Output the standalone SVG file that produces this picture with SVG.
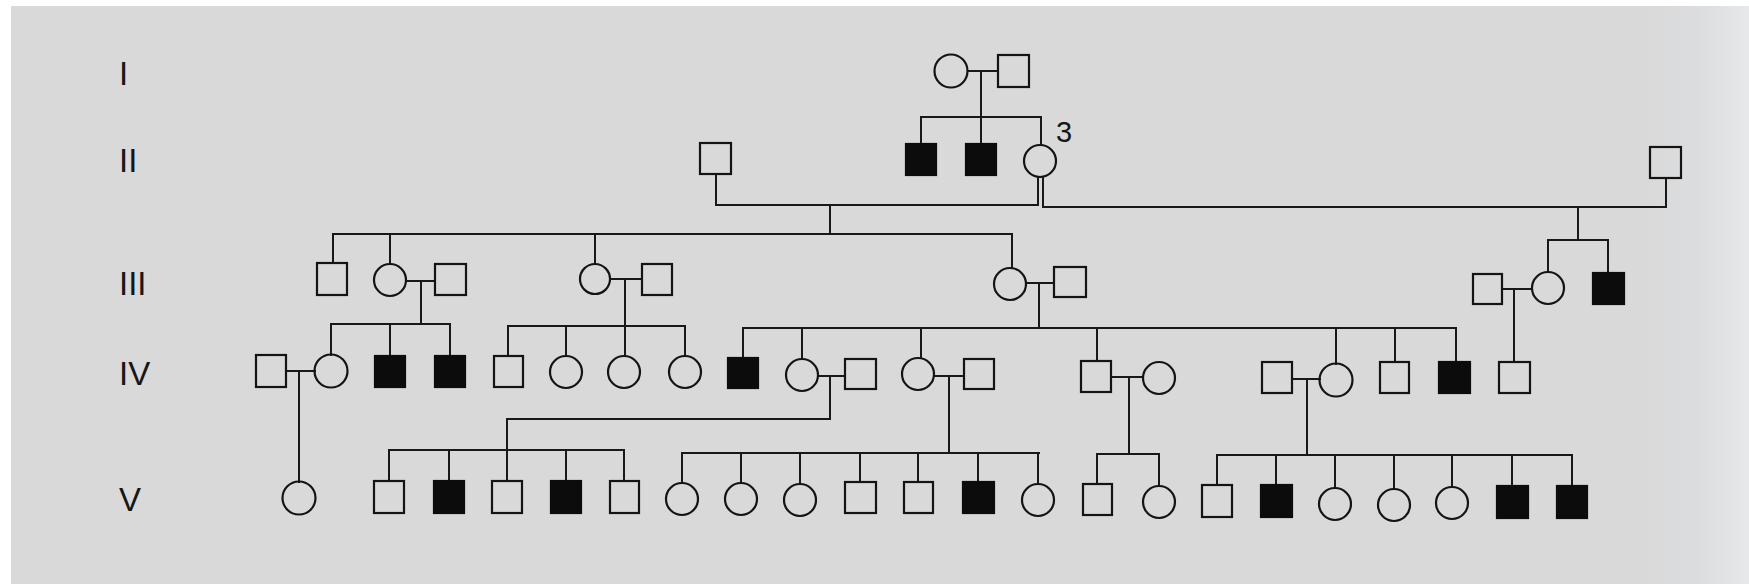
<svg xmlns="http://www.w3.org/2000/svg" width="1749" height="584" viewBox="0 0 1749 584">
  <defs>
    <linearGradient id="edge" x1="0" y1="0" x2="1" y2="0">
      <stop offset="0" stop-color="#d9d9d9"/>
      <stop offset="0.55" stop-color="#dcdddf"/>
      <stop offset="1" stop-color="#e6e8ea"/>
    </linearGradient>
    <style>
      .bg { fill: #d9d9d9; }
      .m { fill: none; stroke: #141414; stroke-width: 2.2; }
      .f { fill: none; stroke: #141414; stroke-width: 2.2; }
      .a { fill: #0c0c0c; stroke: #0c0c0c; stroke-width: 2.2; }
      .ln { fill: none; stroke: #181818; stroke-width: 2; stroke-linecap: square; }
      .gen { font-family: "Liberation Sans", Arial, sans-serif; font-size: 33px; fill: #161616; }
      .num { font-family: "Liberation Sans", Arial, sans-serif; font-size: 29px; fill: #161616; }
    </style>
  </defs>

  <!-- page -->
  <rect x="0" y="0" width="1749" height="584" fill="#ffffff"/>
  <rect class="bg" x="11" y="6" width="1738" height="578"/>
  <rect x="1640" y="6" width="109" height="578" fill="url(#edge)"/>

  <!-- generation labels -->
  <g id="labels">
    <text class="gen" x="119" y="85">I</text>
    <text class="gen" x="119" y="172">II</text>
    <text class="gen" x="119" y="295">III</text>
    <text class="gen" x="119" y="385">IV</text>
    <text class="gen" x="119" y="511">V</text>
  </g>

  <!-- connectors: marriage lines, descent lines and sibships -->
  <g id="connectors" class="ln">
    <!-- I -->
    <path d="M968 71H998M981 71V117M921 117H1041M921 117V144M981 117V144M1041 117V145"/>
    <!-- II: two marriages of II-3 -->
    <path d="M716 174V205H1038V177M1043 177V207H1666V178"/>
    <path d="M830 205V234M333 234H1012M333 234V263M390 234V264M595 234V264M1012 234V268"/>
    <path d="M1578 207V240M1548 240H1608M1548 240V272M1608 240V273"/>
    <!-- III left couple -->
    <path d="M406 281H435M421 281V324M331 324H450M331 324V355M390 324V356M450 324V356"/>
    <!-- III second couple -->
    <path d="M610 279H642M625 279V326M508 326H685M508 326V356M566 326V356M625 326V356M685 326V356"/>
    <!-- III third couple -->
    <path d="M1026 283H1054M1039 283V328M743 328H1456M743 328V358M802 328V359M921 328V358M1097 328V361M1336 328V364M1395 328V362M1456 328V362"/>
    <!-- III right couple -->
    <path d="M1502 289H1532M1514 289V362"/>
    <!-- IV couples -->
    <path d="M286 371H315M299 371V482"/>
    <path d="M818 376H845M830 376V419H507V481M389 450H624M389 450V481M449 450V481M566 450V481M624 450V481"/>
    <path d="M934 376H964M949 376V453M682 453H1039M682 453V483M741 453V483M800 453V484M860 453V482M918 453V482M978 453V482M1038 453V484"/>
    <path d="M1111 377H1143M1129 377V454M1097 454H1159M1097 454V484M1159 454V485"/>
    <path d="M1292 379H1320M1307 379V455M1217 455H1572M1217 455V485M1276 455V485M1335 455V488M1394 455V489M1452 455V487M1512 455V486M1572 455V486"/>
  </g>

  <!-- generation I -->
  <g id="I-1"><circle class="f" cx="951" cy="71" r="16.5"/></g>
  <g id="I-2"><rect class="m" x="998" y="55" width="31" height="32"/></g>

  <!-- generation II -->
  <g id="II-spouse-left"><rect class="m" x="700" y="143" width="31" height="31"/></g>
  <g id="II-1"><rect class="a" x="906" y="144" width="30" height="31"/></g>
  <g id="II-2"><rect class="a" x="966" y="144" width="30" height="31"/></g>
  <g id="II-3"><circle class="f" cx="1040" cy="161" r="16"/><text class="num" x="1056" y="142">3</text></g>
  <g id="II-spouse-right"><rect class="m" x="1650" y="147" width="31" height="31"/></g>

  <!-- generation III -->
  <g id="III-1"><rect class="m" x="317" y="263" width="30" height="32"/></g>
  <g id="III-2"><circle class="f" cx="390" cy="280" r="16"/></g>
  <g id="III-2-spouse"><rect class="m" x="435" y="264" width="31" height="31"/></g>
  <g id="III-3"><circle class="f" cx="595" cy="279" r="15"/></g>
  <g id="III-3-spouse"><rect class="m" x="642" y="264" width="30" height="31"/></g>
  <g id="III-4"><circle class="f" cx="1010" cy="284" r="16"/></g>
  <g id="III-4-spouse"><rect class="m" x="1054" y="267" width="32" height="30"/></g>
  <g id="III-5-spouse"><rect class="m" x="1473" y="274" width="29" height="30"/></g>
  <g id="III-5"><circle class="f" cx="1548" cy="288" r="16"/></g>
  <g id="III-6"><rect class="a" x="1593" y="273" width="31" height="31"/></g>

  <!-- generation IV -->
  <g id="IV-1-spouse"><rect class="m" x="256" y="355" width="30" height="32"/></g>
  <g id="IV-1"><circle class="f" cx="331" cy="371" r="16.5"/></g>
  <g id="IV-2"><rect class="a" x="375" y="356" width="30" height="31"/></g>
  <g id="IV-3"><rect class="a" x="435" y="356" width="30" height="31"/></g>
  <g id="IV-4"><rect class="m" x="494" y="356" width="29" height="31"/></g>
  <g id="IV-5"><circle class="f" cx="566" cy="372" r="16"/></g>
  <g id="IV-6"><circle class="f" cx="624" cy="372" r="16"/></g>
  <g id="IV-7"><circle class="f" cx="685" cy="372" r="16"/></g>
  <g id="IV-8"><rect class="a" x="728" y="358" width="30" height="30"/></g>
  <g id="IV-9"><circle class="f" cx="802" cy="375" r="16"/></g>
  <g id="IV-9-spouse"><rect class="m" x="845" y="359" width="31" height="30"/></g>
  <g id="IV-10"><circle class="f" cx="918" cy="374" r="16"/></g>
  <g id="IV-10-spouse"><rect class="m" x="964" y="359" width="30" height="30"/></g>
  <g id="IV-11"><rect class="m" x="1081" y="361" width="30" height="31"/></g>
  <g id="IV-11-spouse"><circle class="f" cx="1159" cy="378" r="16"/></g>
  <g id="IV-12-spouse"><rect class="m" x="1262" y="362" width="30" height="31"/></g>
  <g id="IV-12"><circle class="f" cx="1336" cy="380" r="16.5"/></g>
  <g id="IV-13"><rect class="m" x="1380" y="362" width="29" height="31"/></g>
  <g id="IV-14"><rect class="a" x="1439" y="362" width="31" height="31"/></g>
  <g id="IV-15"><rect class="m" x="1499" y="362" width="31" height="31"/></g>

  <!-- generation V -->
  <g id="V-1"><circle class="f" cx="299" cy="498" r="16.5"/></g>
  <g id="V-2"><rect class="m" x="374" y="481" width="30" height="32"/></g>
  <g id="V-3"><rect class="a" x="434" y="481" width="30" height="32"/></g>
  <g id="V-4"><rect class="m" x="492" y="481" width="30" height="32"/></g>
  <g id="V-5"><rect class="a" x="551" y="481" width="30" height="32"/></g>
  <g id="V-6"><rect class="m" x="610" y="481" width="29" height="32"/></g>
  <g id="V-7"><circle class="f" cx="682" cy="499" r="16"/></g>
  <g id="V-8"><circle class="f" cx="741" cy="499" r="16"/></g>
  <g id="V-9"><circle class="f" cx="800" cy="500" r="16"/></g>
  <g id="V-10"><rect class="m" x="845" y="482" width="31" height="31"/></g>
  <g id="V-11"><rect class="m" x="904" y="482" width="29" height="31"/></g>
  <g id="V-12"><rect class="a" x="963" y="482" width="31" height="31"/></g>
  <g id="V-13"><circle class="f" cx="1038" cy="500" r="16"/></g>
  <g id="V-14"><rect class="m" x="1083" y="484" width="29" height="31"/></g>
  <g id="V-15"><circle class="f" cx="1159" cy="502" r="16"/></g>
  <g id="V-16"><rect class="m" x="1202" y="485" width="30" height="32"/></g>
  <g id="V-17"><rect class="a" x="1261" y="485" width="31" height="32"/></g>
  <g id="V-18"><circle class="f" cx="1335" cy="504" r="16"/></g>
  <g id="V-19"><circle class="f" cx="1394" cy="505" r="16"/></g>
  <g id="V-20"><circle class="f" cx="1452" cy="503" r="16"/></g>
  <g id="V-21"><rect class="a" x="1497" y="486" width="31" height="32"/></g>
  <g id="V-22"><rect class="a" x="1557" y="486" width="30" height="32"/></g>
</svg>
